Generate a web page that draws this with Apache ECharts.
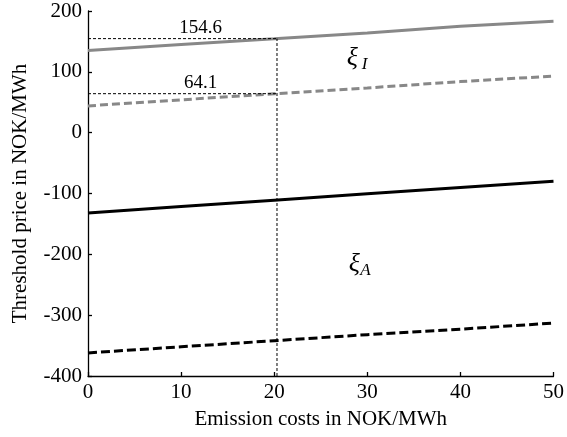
<!DOCTYPE html>
<html>
<head>
<meta charset="utf-8">
<script src="https://cdn.jsdelivr.net/npm/echarts@6/dist/echarts.min.js"></script>
<style>html,body{margin:0;padding:0;background:#fff}#c{width:567px;height:437px}</style>
</head>
<body>
<div id="c"></div>
<script>
// Data
const emissionCosts = [0, 10, 20, 30, 40, 50];
const xiIUpper = [135, 145, 154.3, 164, 175, 183];
const xiILower = [44, 54, 63.8, 73.5, 84, 93];
const xiAUpper = [-132, -121.5, -111, -100.5, -90, -80];
const xiALower = [-362, -352, -342, -332, -323, -313];
const markX = 20.3;
const markValues = [154.6, 64.1];
const markLabels = ['154.6', '64.1'];
const yTicks = [-400, -300, -200, -100, 0, 100, 200];
const xTicks = [0, 10, 20, 30, 40, 50];

const FONT = "'Liberation Serif', 'Times New Roman', serif";
const pairs = ys => emissionCosts.map((x, i) => [x, ys[i]]);

const chart = echarts.init(document.getElementById('c'), null, {renderer: 'canvas'});

const series = [
  {type: 'line', data: pairs(xiIUpper), symbol: 'none', lineStyle: {color: '#888888', width: 3}, z: 3},
  {type: 'line', data: pairs(xiILower), symbol: 'none', lineStyle: {color: '#888888', width: 3, type: [8, 4]}, z: 3},
  {type: 'line', data: pairs(xiAUpper), symbol: 'none', lineStyle: {color: '#000000', width: 3}, z: 3},
  {type: 'line', data: pairs(xiALower), symbol: 'none', lineStyle: {color: '#000000', width: 3, type: [9, 4]}, z: 3}
];

// guide lines
markValues.forEach(v => {
  series.push({type: 'line', data: [[0, v], [markX, v]], symbol: 'none',
    lineStyle: {color: '#000', width: 1, type: [3, 2]}, z: 4, silent: true});
});
series.push({type: 'line', data: [[markX, yTicks[0]], [markX, markValues[0]]], symbol: 'none',
  lineStyle: {color: '#000', width: 1, type: [3, 2]}, z: 4, silent: true});

// value labels
series.push({type: 'scatter', symbolSize: 0, itemStyle: {color: '#000', opacity: 1}, z: 5, silent: true,
  data: markValues.map((v, i) => ({value: [12.1, v], name: markLabels[i]})),
  label: {show: true, position: 'top', distance: 1, formatter: p => p.name,
    fontFamily: FONT, fontSize: 19, color: '#000', opacity: 1, textBorderWidth: 0}});

// greek region labels
series.push({type: 'scatter', symbolSize: 0, itemStyle: {color: '#000', opacity: 1}, z: 5, silent: true,
  data: [
    {value: [28.4, 123], name: 'ξ', fs: 26},
    {value: [29.7, 111.5], name: 'I', fs: 17},
    {value: [28.6, -216], name: 'ξ', fs: 26},
    {value: [29.8, -226.5], name: 'A', fs: 17}
  ].map(d => ({value: d.value, name: d.name,
    label: {fontSize: d.fs}})),
  label: {show: true, position: 'inside', formatter: p => p.name,
    fontFamily: FONT, fontStyle: 'italic', color: '#000', opacity: 1, textBorderWidth: 0}});

chart.setOption({
  animation: false,
  backgroundColor: '#fff',
  grid: {left: 88, right: 10, top: 11, bottom: 61},
  xAxis: {
    type: 'value', min: xTicks[0], max: xTicks[xTicks.length - 1], interval: 10,
    name: 'Emission costs in NOK/MWh', nameLocation: 'middle', nameGap: 33,
    nameTextStyle: {fontFamily: FONT, fontSize: 21, color: '#000'},
    axisLine: {show: true, onZero: false, lineStyle: {color: '#000', width: 1.3}},
    axisTick: {show: true, inside: true, length: 4, lineStyle: {color: '#000', width: 1.3}},
    axisLabel: {fontFamily: FONT, fontSize: 21, color: '#000', margin: 6},
    splitLine: {show: false}
  },
  yAxis: {
    type: 'value', min: yTicks[0], max: yTicks[yTicks.length - 1], interval: 100,
    name: 'Threshold price in NOK/MWh', nameLocation: 'middle', nameGap: 57,
    nameTextStyle: {fontFamily: FONT, fontSize: 21, color: '#000'},
    axisLine: {show: true, onZero: false, lineStyle: {color: '#000', width: 1.3}},
    axisTick: {show: true, inside: true, length: 4, lineStyle: {color: '#000', width: 1.3}},
    axisLabel: {fontFamily: FONT, fontSize: 21, color: '#000', margin: 6},
    splitLine: {show: false}
  },
  series: series
});
</script>
</body>
</html>
